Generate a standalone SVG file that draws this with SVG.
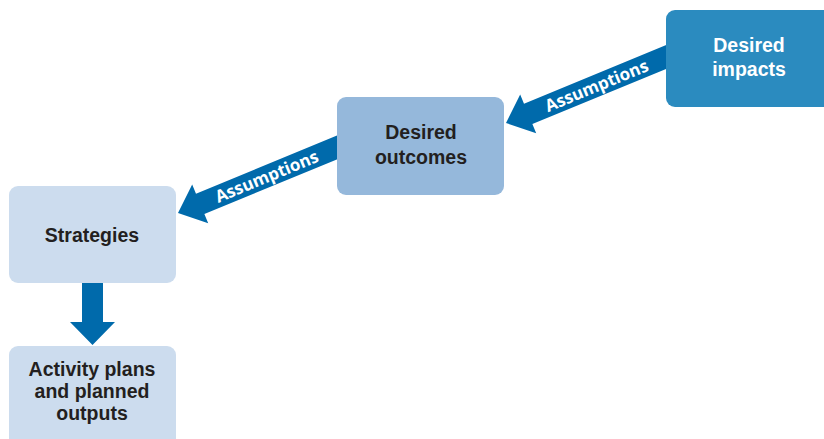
<svg xmlns="http://www.w3.org/2000/svg" width="824" height="439" viewBox="0 0 824 439">
<style>
.lbl{font-family:"Liberation Sans",Arial,sans-serif;font-weight:bold;font-size:19.5px;text-anchor:middle;fill:#231f20}
.wt{fill:#ffffff}
.arr{fill:#006aab}
.as{font-family:"Open Sans","Liberation Sans",Arial,sans-serif;font-weight:bold;font-size:17px;text-anchor:middle;fill:#ffffff}
</style>
<rect width="824" height="439" fill="#ffffff"/>
<g id="connectors">
  <g transform="translate(506,123) rotate(-22.4)">
    <path class="arr" d="M0,0 L24,-21 L24,-11 L185,-11 L185,11 L24,11 L24,21 Z"/>
    <text class="as" x="98" y="6">Assumptions</text>
  </g>
  <g transform="translate(178,213) rotate(-22.4)">
    <path class="arr" d="M0,0 L24,-21 L24,-11 L185,-11 L185,11 L24,11 L24,21 Z"/>
    <text class="as" x="96" y="6">Assumptions</text>
  </g>
  <path class="arr" d="M82,280 L103,280 L103,322 L115,322 L92.5,345 L70,322 L82,322 Z"/>
</g>
<g id="impacts">
  <rect x="666" y="10" width="170" height="97" rx="9" fill="#2b8bbf"/>
  <text class="lbl wt" x="749" y="52">Desired</text>
  <text class="lbl wt" x="749" y="76">impacts</text>
</g>
<g id="outcomes">
  <rect x="337" y="97" width="167" height="98" rx="9" fill="#95b8db"/>
  <text class="lbl" x="421" y="139">Desired</text>
  <text class="lbl" x="421" y="164">outcomes</text>
</g>
<g id="strategies">
  <rect x="9" y="186" width="167" height="97" rx="9" fill="#ccdcee"/>
  <text class="lbl" x="92" y="242">Strategies</text>
</g>
<g id="activity">
  <rect x="9" y="346" width="167" height="110" rx="9" fill="#ccdcee"/>
  <text class="lbl" x="92" y="376">Activity plans</text>
  <text class="lbl" x="92" y="398">and planned</text>
  <text class="lbl" x="92" y="420">outputs</text>
</g>
</svg>
